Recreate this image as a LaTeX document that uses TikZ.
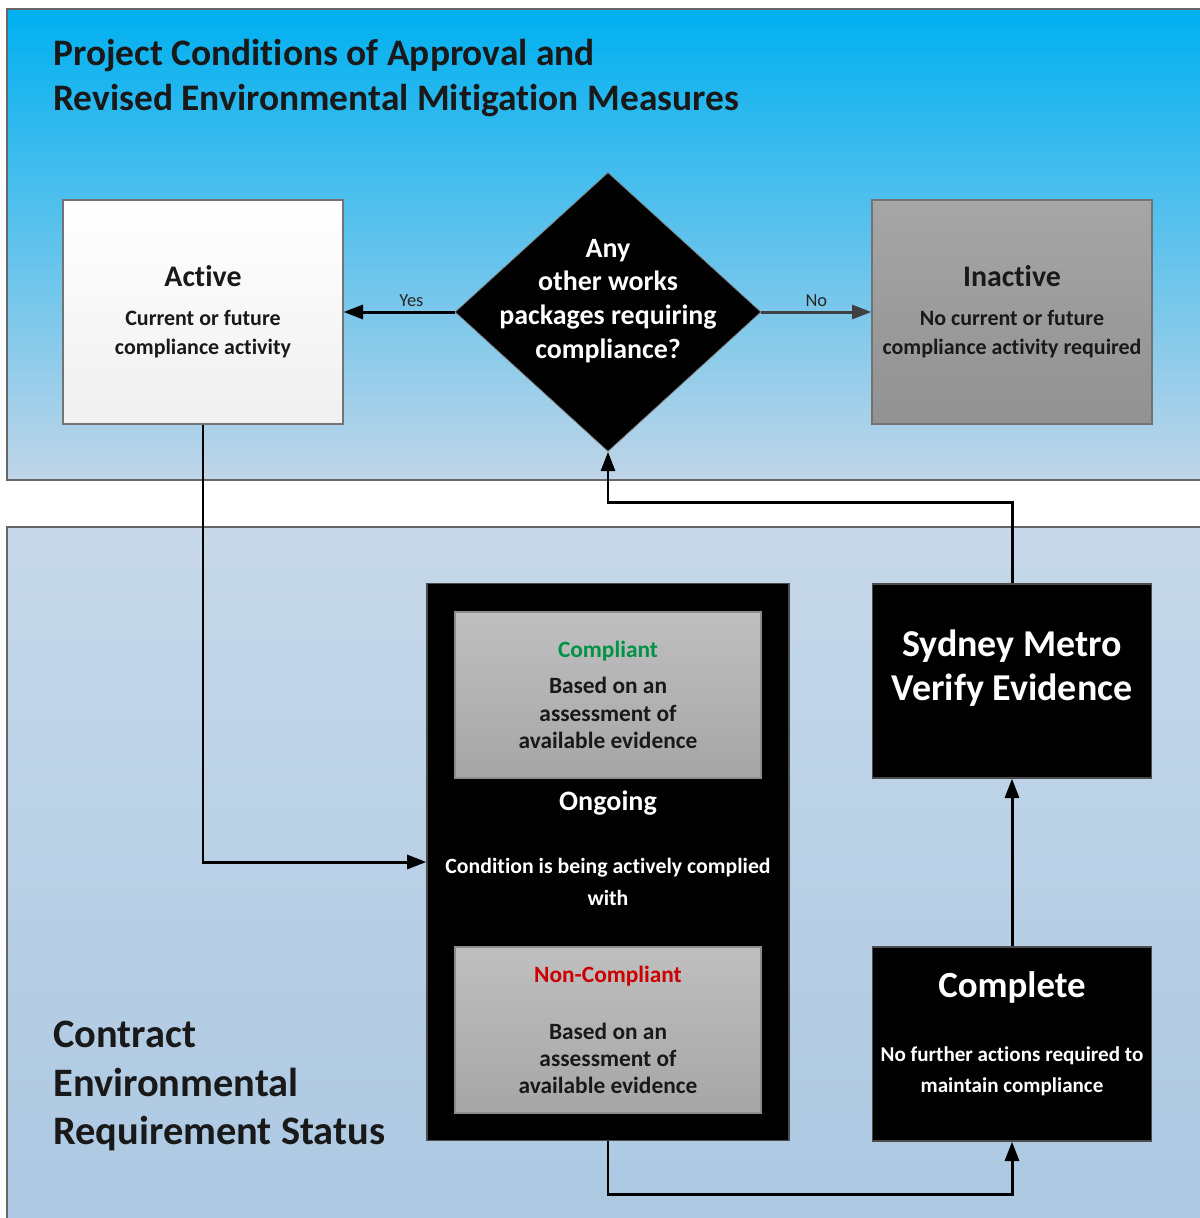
\documentclass[tikz,border=0pt]{standalone}
\usepackage{fontspec}
\setmainfont{Carlito}[Ligatures=NoCommon]
\usetikzlibrary{arrows.meta,shapes.geometric}
\definecolor{skytop}{RGB}{0,176,240}
\definecolor{skybottom}{RGB}{192,213,232}
\definecolor{misttop}{RGB}{198,216,233}
\definecolor{mistbottom}{RGB}{172,200,226}
\definecolor{okgreen}{RGB}{0,146,69}
\definecolor{badred}{RGB}{204,0,0}
\definecolor{nogrey}{RGB}{64,64,64}
\newcommand\sizeof[2]{\fontsize{#1}{#2}\selectfont}
\tikzset{
	panel/.style={draw=black!60, line width=0.6pt},
	lightbox/.style={draw=black!55, line width=0.8pt, top color=white, bottom color=black!6, minimum width=5.6cm, minimum height=4.48cm, align=center, font=\sizeof{12.5}{16.5}\bfseries, text=black!90},
	greybox/.style={lightbox, top color=black!35, bottom color=black!43},
	innerbox/.style={draw=black!45, line width=0.8pt, top color=black!25, bottom color=black!35, minimum width=6.12cm, minimum height=3.32cm, align=center, font=\sizeof{13.3}{15.6}\bfseries, text=black!90},
	darkbox/.style={draw=black!70, line width=0.8pt, fill=black, minimum width=5.58cm, minimum height=3.88cm},
	whitetext/.style={text=white, align=center, font=\bfseries},
	flow/.style={->, line width=1.7pt},
	answer/.style={font=\sizeof{10.5}{12}, text=black!85, inner sep=2pt}
}
\begin{document}
\begin{tikzpicture}[x=0.02cm, y=-0.02cm, >={Triangle[length=11pt,width=8pt]}]
	\useasboundingbox (0,0) rectangle (1200,1218);
	\draw[panel, top color=skytop, bottom color=skybottom] (7,9) rectangle (1215,480);
	\draw[panel, top color=misttop, bottom color=mistbottom] (7,527) rectangle (1215,1230);
	
	\node[anchor=west, align=left, inner sep=0pt, font=\sizeof{21.3}{25.6}\bfseries, text=black!90] (title) at (53,78) {Project Conditions of Approval and\\Revised Environmental Mitigation Measures};
	\node[anchor=west, align=left, inner sep=0pt, font=\sizeof{23}{27.6}\bfseries, text=black!90] (status) at (53,1086) {Contract\\Environmental\\Requirement Status};
	
	\node[lightbox] (active) at (203,312) {{\sizeof{17}{20}Active}\\[5.7pt]Current or future\\compliance activity};
	\node[diamond, draw=black!50, fill=black, minimum width=6.12cm, minimum height=5.58cm, inner sep=0pt] (query) at (608,312) {};
	\node[whitetext, font=\sizeof{15.9}{19.3}\bfseries] (querytext) at (608,301) {Any\\other works\\packages requiring\\compliance?};
	\node[greybox] (inactive) at (1012,312) {{\sizeof{17}{20}Inactive}\\[5.7pt]No current or future\\compliance activity required};
	
	\node[darkbox, minimum width=7.24cm, minimum height=11.14cm] (ongoing) at (608,862) {};
	\node[innerbox] (compliant) at (608,695) {\textcolor{okgreen}{Compliant}\\[4.9pt]Based on an\\assessment of\\available evidence};
	\node[whitetext, font=\sizeof{16}{19}\bfseries] (ongoingtext) at (608,803) {Ongoing};
	\node[whitetext, font=\sizeof{12.4}{18.2}\bfseries] (conditiontext) at (608,882) {Condition is being actively complied\\with};
	\node[innerbox] (noncompliant) at (608,1030) {\textcolor{badred}{Non-Compliant}\\[16.8pt]Based on an\\assessment of\\available evidence};
	
	\node[darkbox] (verify) at (1012,681) {};
	\node[whitetext, font=\sizeof{21.6}{25}\bfseries] (verifytext) at (1012,668) {Sydney Metro\\Verify Evidence};
	\node[darkbox] (complete) at (1012,1044) {};
	\node[whitetext, font=\sizeof{12}{17.6}\bfseries] (completetext) at (1012,1033.5) {{\sizeof{21}{25}Complete}\\[18.9pt]No further actions required to\\maintain compliance};
	
	\draw[flow] (query.west) -- node[answer, above, pos=0.39] {Yes} (active.east);
	\draw[flow, draw=nogrey] (query.east) -- node[answer, above] {No} (inactive.west);
	\draw[flow] (active.south) |- (ongoing.west);
	\draw[flow] (ongoing.south) -- ++(0,53) -| (complete.south);
	\draw[flow] (complete.north) -- (verify.south);
	\draw[flow] (verify.north) -- ++(0,-81) -| (query.south);
\end{tikzpicture}
\end{document}
